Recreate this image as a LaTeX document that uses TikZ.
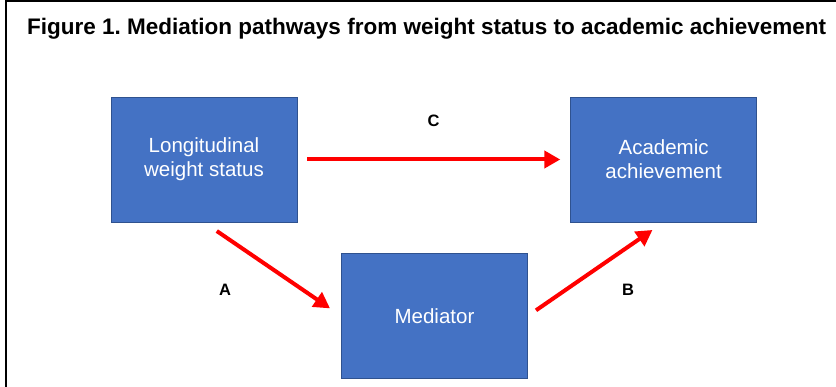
\documentclass[tikz,border=0pt]{standalone}
\usepackage{fontspec}
\setmainfont{Liberation Sans}
\usepackage{tikz}
\usetikzlibrary{arrows.meta,positioning}
\definecolor{bluscatola}{HTML}{4472C4}
\definecolor{bordoscatola}{HTML}{2F528F}
\definecolor{rossofreccia}{HTML}{FF0000}
\frenchspacing
\tikzset{
  scatola/.style={draw=bordoscatola,line width=0.6pt,fill=bluscatola,
    minimum width=186pt,minimum height=125pt,inner sep=0pt,
    text=white,align=center,font=\fontsize{20.5}{24}\selectfont},
  freccia/.style={draw=rossofreccia,line width=4pt,-{Triangle[length=16pt,width=17pt]}},
  lettera/.style={font=\bfseries\fontsize{16.5}{19}\selectfont},
  titolo/.style={anchor=base west,inner sep=0pt,font=\bfseries\fontsize{22.5}{26}\selectfont}
}

\begin{document}
\begin{tikzpicture}[x=1pt,y=-1pt]
\useasboundingbox (0,0) rectangle (836,387);
% cornice
\draw[line width=2pt] (6,387) -- (6,1) -- (836,1);
\node[titolo] (titolo) at (27,35) {Figure 1. Mediation pathways from weight status to academic achievement};
% scatole
\node[scatola] (peso) at (204,159.5) {Longitudinal\\weight status};
\node[scatola,right=273pt of peso] (rendimento) {Academic\\achievement};
\node[scatola] (mediatore) at (434.5,316) {Mediator};
% frecce
\draw[freccia,shorten <=10pt,shorten >=10pt] (peso) -- (rendimento);
\draw[freccia,shorten <=15.5pt,shorten >=13.5pt] (peso.south) -- (mediatore.west);
\draw[freccia,shorten <=10pt,shorten >=13.5pt] (mediatore.east) -- (rendimento.south);
\node[lettera] (lc) at (433.5,121) {C};
\node[lettera] (la) at (225,290) {A};
\node[lettera] (lb) at (628,290) {B};
\end{tikzpicture}
\end{document}
